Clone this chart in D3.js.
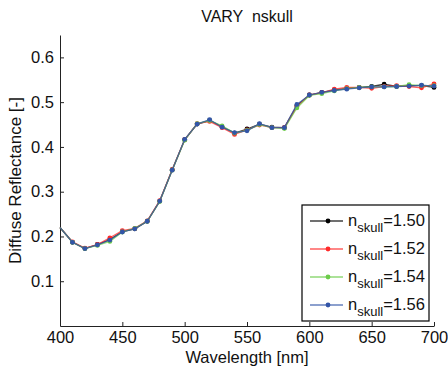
<!DOCTYPE html>
<html>
<head>
<meta charset="utf-8">
<script src="https://cdn.jsdelivr.net/npm/d3@7"></script>
<style>
  body { margin: 0; background: #fff; }
  text { font-family: "Liberation Sans", Arial, sans-serif; fill: #111; }
</style>
</head>
<body>
<div id="chart"></div>
<script>
const wavelengths = [400, 410, 420, 430, 440, 450, 460, 470, 480, 490, 500, 510, 520, 530, 540, 550,
  560, 570, 580, 590, 600, 610, 620, 630, 640, 650, 660, 670, 680, 690, 700]

const n150 = [0.220, 0.187, 0.173, 0.182, 0.193, 0.211, 0.217, 0.234, 0.279, 0.349, 0.416, 0.451, 0.459, 0.445, 0.431, 0.440,
  0.451, 0.444, 0.443, 0.492, 0.516, 0.522, 0.527, 0.531, 0.533, 0.535, 0.540, 0.535, 0.537, 0.537, 0.533]
const n152 = [0.220, 0.188, 0.174, 0.182, 0.197, 0.213, 0.218, 0.235, 0.280, 0.349, 0.416, 0.452, 0.457, 0.443, 0.428, 0.438,
  0.449, 0.443, 0.443, 0.490, 0.516, 0.521, 0.529, 0.533, 0.533, 0.531, 0.535, 0.537, 0.535, 0.532, 0.541]
const n154 = [0.220, 0.187, 0.173, 0.180, 0.189, 0.210, 0.218, 0.234, 0.278, 0.348, 0.415, 0.452, 0.459, 0.447, 0.431, 0.437,
  0.450, 0.443, 0.441, 0.487, 0.515, 0.519, 0.525, 0.530, 0.533, 0.534, 0.534, 0.535, 0.539, 0.537, 0.537]
const n156 = [0.220, 0.187, 0.173, 0.181, 0.192, 0.210, 0.217, 0.234, 0.279, 0.348, 0.417, 0.451, 0.461, 0.444, 0.432, 0.436,
  0.452, 0.443, 0.443, 0.495, 0.516, 0.522, 0.526, 0.529, 0.532, 0.534, 0.534, 0.535, 0.536, 0.538, 0.536]

const seriesNames = ["1.50", "1.52", "1.54", "1.56"]
const seriesColors = ["#000000", "#ff2a2a", "#6ccc4a", "#3355a8"]
const xTicks = [400, 450, 500, 550, 600, 650, 700]
const yTicks = [0.1, 0.2, 0.3, 0.4, 0.5, 0.6]

const margin = { top: 35, right: 14, bottom: 42, left: 60 }
const width = 448 - margin.left - margin.right,
  height = 368 - margin.top - margin.bottom

const svg = d3.select("#chart")
  .append("svg")
  .attr("width", 448)
  .attr("height", 368)

const g = svg.append("g")
  .attr("transform", "translate(" + margin.left + "," + margin.top + ")")

const x = d3.scaleLinear().domain([400, 700]).range([0, width])
const y = d3.scaleLinear().domain([0, 0.65]).range([height, 0])

const series = [n150, n152, n154, n156].map((vals, i) => ({
  name: seriesNames[i],
  color: seriesColors[i],
  values: vals.map((v, j) => ({ w: wavelengths[j], r: v }))
}))

// axes, matlab style: ticks point inward
const xAxis = d3.axisBottom(x).tickValues(xTicks).tickSizeInner(-4).tickSizeOuter(0).tickPadding(5)
const yAxis = d3.axisLeft(y).tickValues(yTicks).tickSizeInner(-4).tickSizeOuter(0).tickPadding(6).tickFormat(d3.format(".1f"))

const gx = g.append("g")
  .attr("transform", "translate(0," + height + ")")
  .call(xAxis)
const gy = g.append("g").call(yAxis)

;[gx, gy].forEach(a => {
  a.selectAll("path, line").attr("stroke", "#222")
  a.selectAll("text").style("font-size", "16.5px").attr("fill", "#111")
})

const line = d3.line()
  .x(d => x(d.w))
  .y(d => y(d.r))

series.forEach(s => {
  g.append("path")
    .datum(s.values)
    .attr("fill", "none")
    .attr("stroke", s.color)
    .attr("stroke-opacity", 0.75)
    .attr("stroke-width", 1.3)
    .attr("d", line)

  // first point sits on the axis and is not marked in the original
  g.selectAll(null)
    .data(s.values.filter(d => d.w > 400))
    .enter()
    .append("circle")
    .attr("cx", d => x(d.w))
    .attr("cy", d => y(d.r))
    .attr("r", 2.4)
    .attr("fill", s.color)
})

// title + axis labels
svg.append("text")
  .attr("x", margin.left + width / 2)
  .attr("y", 22)
  .attr("text-anchor", "middle")
  .attr("xml:space", "preserve")
  .style("white-space", "pre")
  .style("font-size", "16px")
  .text("VARY  nskull")

svg.append("text")
  .attr("x", margin.left + width / 2)
  .attr("y", 362.5)
  .attr("text-anchor", "middle")
  .style("font-size", "16.5px")
  .text("Wavelength [nm]")

svg.append("text")
  .attr("transform", "translate(21," + (margin.top + height / 2) + ") rotate(-90)")
  .attr("text-anchor", "middle")
  .style("font-size", "17px")
  .text("Diffuse Reflectance [-]")

// legend
const legend = svg.append("g").attr("transform", "translate(302,205)")
legend.append("rect")
  .attr("width", 127)
  .attr("height", 116)
  .attr("fill", "#fff")
  .attr("stroke", "#000")
  .attr("stroke-width", 1.2)

series.forEach((s, i) => {
  const row = legend.append("g").attr("transform", "translate(0," + (16 + i * 28) + ")")
  row.append("line")
    .attr("x1", 8).attr("x2", 41)
    .attr("stroke", s.color)
    .attr("stroke-opacity", 0.75)
    .attr("stroke-width", 1.3)
  row.append("circle").attr("cx", 26).attr("r", 2.4).attr("fill", s.color)
  const t = row.append("text")
    .attr("x", 46)
    .attr("y", 5)
    .style("font-size", "16.5px")
  t.append("tspan").text("n")
  t.append("tspan").attr("dy", 6).style("font-size", "13px").text("skull")
  t.append("tspan").attr("dy", -6).text("=" + s.name)
})
</script>
</body>
</html>
